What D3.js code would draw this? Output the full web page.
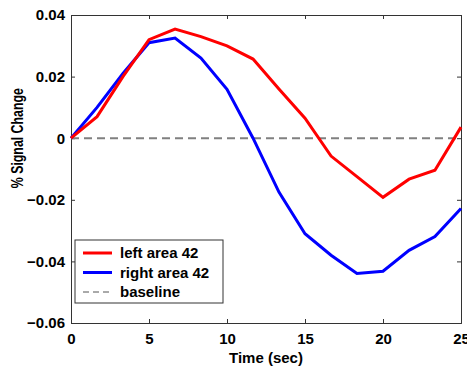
<!DOCTYPE html>
<html>
<head>
<meta charset="utf-8">
<script src="https://cdn.jsdelivr.net/npm/d3@7"></script>
<style>
  body { margin: 0; background: #fff; }
  text { font-family: "Liberation Sans", Arial, sans-serif; font-weight: bold; }
</style>
</head>
<body>
<div id="chart"></div>
<script>
// time points (sec) and mean responses
var times = [0, 1.67, 3.33, 5, 6.67, 8.33, 10, 11.67, 13.33, 15, 16.67, 18.33, 20, 21.67, 23.33, 25];
var leftArea = [0, 0.007, 0.020, 0.032, 0.0354, 0.033, 0.030, 0.0257, 0.016, 0.0065, -0.0058, -0.0125, -0.0192, -0.0133, -0.0104, 0.0036];
var rightArea = [0, 0.010, 0.021, 0.031, 0.0325, 0.026, 0.0159, 0.0, -0.0175, -0.031, -0.038, -0.0439, -0.0432, -0.0364, -0.0319, -0.0228];
var xTicks = [0, 5, 10, 15, 20, 25];
var yTicks = [-0.06, -0.04, -0.02, 0, 0.02, 0.04];
var legendNames = ["left area 42", "right area 42", "baseline"];

var width = 467, height = 368;
var margin = {left: 71, right: 6, top: 15, bottom: 45};

var svg = d3.select("#chart").append("svg")
    .attr("width", width)
    .attr("height", height);

var xScale = d3.scaleLinear().domain([0, 25]).range([margin.left, width - margin.right]);
var yScale = d3.scaleLinear().domain([-0.06, 0.04]).range([height - margin.bottom, margin.top]);

function fmtY(d) {
    if (d === 0) return "0";
    return (d < 0 ? "\u2212" : "") + Math.abs(d).toFixed(2);
}

// axes, ticks inward on all four sides
svg.append("g")
    .attr("transform", "translate(0," + yScale(-0.06) + ")")
    .call(d3.axisBottom(xScale).tickValues(xTicks).tickSize(-4).tickPadding(10).tickFormat(d3.format("d")))
    .call(function(g) { g.selectAll("text").style("font-size", "15px").attr("fill", "#000"); });

svg.append("g")
    .attr("transform", "translate(0," + yScale(0.04) + ")")
    .call(d3.axisTop(xScale).tickValues(xTicks).tickSize(-4).tickFormat(""));

svg.append("g")
    .attr("transform", "translate(" + xScale(0) + ",0)")
    .call(d3.axisLeft(yScale).tickValues(yTicks).tickSize(-4).tickPadding(6).tickFormat(fmtY))
    .call(function(g) { g.selectAll("text").style("font-size", "15px").attr("fill", "#000"); });

svg.append("g")
    .attr("transform", "translate(" + xScale(25) + ",0)")
    .call(d3.axisRight(yScale).tickValues(yTicks).tickSize(-4).tickFormat(""));

svg.selectAll(".domain").attr("stroke", "#333");
svg.selectAll(".tick line").attr("stroke", "#333");

// baseline
svg.append("line")
    .attr("x1", xScale(0)).attr("x2", xScale(25))
    .attr("y1", yScale(0)).attr("y2", yScale(0))
    .attr("stroke", "#808080")
    .attr("stroke-width", 2)
    .attr("stroke-dasharray", "8,5");

var line = d3.line()
    .x(function(d, i) { return xScale(times[i]); })
    .y(function(d) { return yScale(d); });

svg.append("path").datum(rightArea)
    .attr("d", line)
    .attr("fill", "none")
    .attr("stroke", "#0000ff")
    .attr("stroke-width", 3);

svg.append("path").datum(leftArea)
    .attr("d", line)
    .attr("fill", "none")
    .attr("stroke", "#ff0000")
    .attr("stroke-width", 3);

// axis labels
svg.append("text")
    .attr("x", (xScale(0) + xScale(25)) / 2)
    .attr("y", 363)
    .attr("text-anchor", "middle")
    .style("font-size", "15px")
    .text("Time (sec)");

svg.append("text")
    .attr("transform", "translate(23," + yScale(0) + ") rotate(-90)")
    .attr("text-anchor", "middle")
    .attr("textLength", 100)
    .attr("lengthAdjust", "spacingAndGlyphs")
    .style("font-size", "16px")
    .text("% Signal Change");

// legend
var legend = svg.append("g").attr("transform", "translate(75,240)");
legend.append("rect")
    .attr("width", 148).attr("height", 63)
    .attr("fill", "#fff").attr("stroke", "#333");

var legendStyles = [
    {color: "#ff0000", w: 3, dash: null},
    {color: "#0000ff", w: 3, dash: null},
    {color: "#555", w: 1, dash: "6,4"}
];
legend.selectAll(".item").data(legendNames).enter().append("g")
    .attr("transform", function(d, i) { return "translate(0," + (13 + i * 19.5) + ")"; })
    .each(function(d, i) {
        var g = d3.select(this);
        g.append("line")
            .attr("x1", 8).attr("x2", 37)
            .attr("stroke", legendStyles[i].color)
            .attr("stroke-width", legendStyles[i].w)
            .attr("stroke-dasharray", legendStyles[i].dash);
        g.append("text")
            .attr("x", 45).attr("dy", "0.35em")
            .style("font-size", "15px")
            .text(d);
    });
</script>
</body>
</html>
